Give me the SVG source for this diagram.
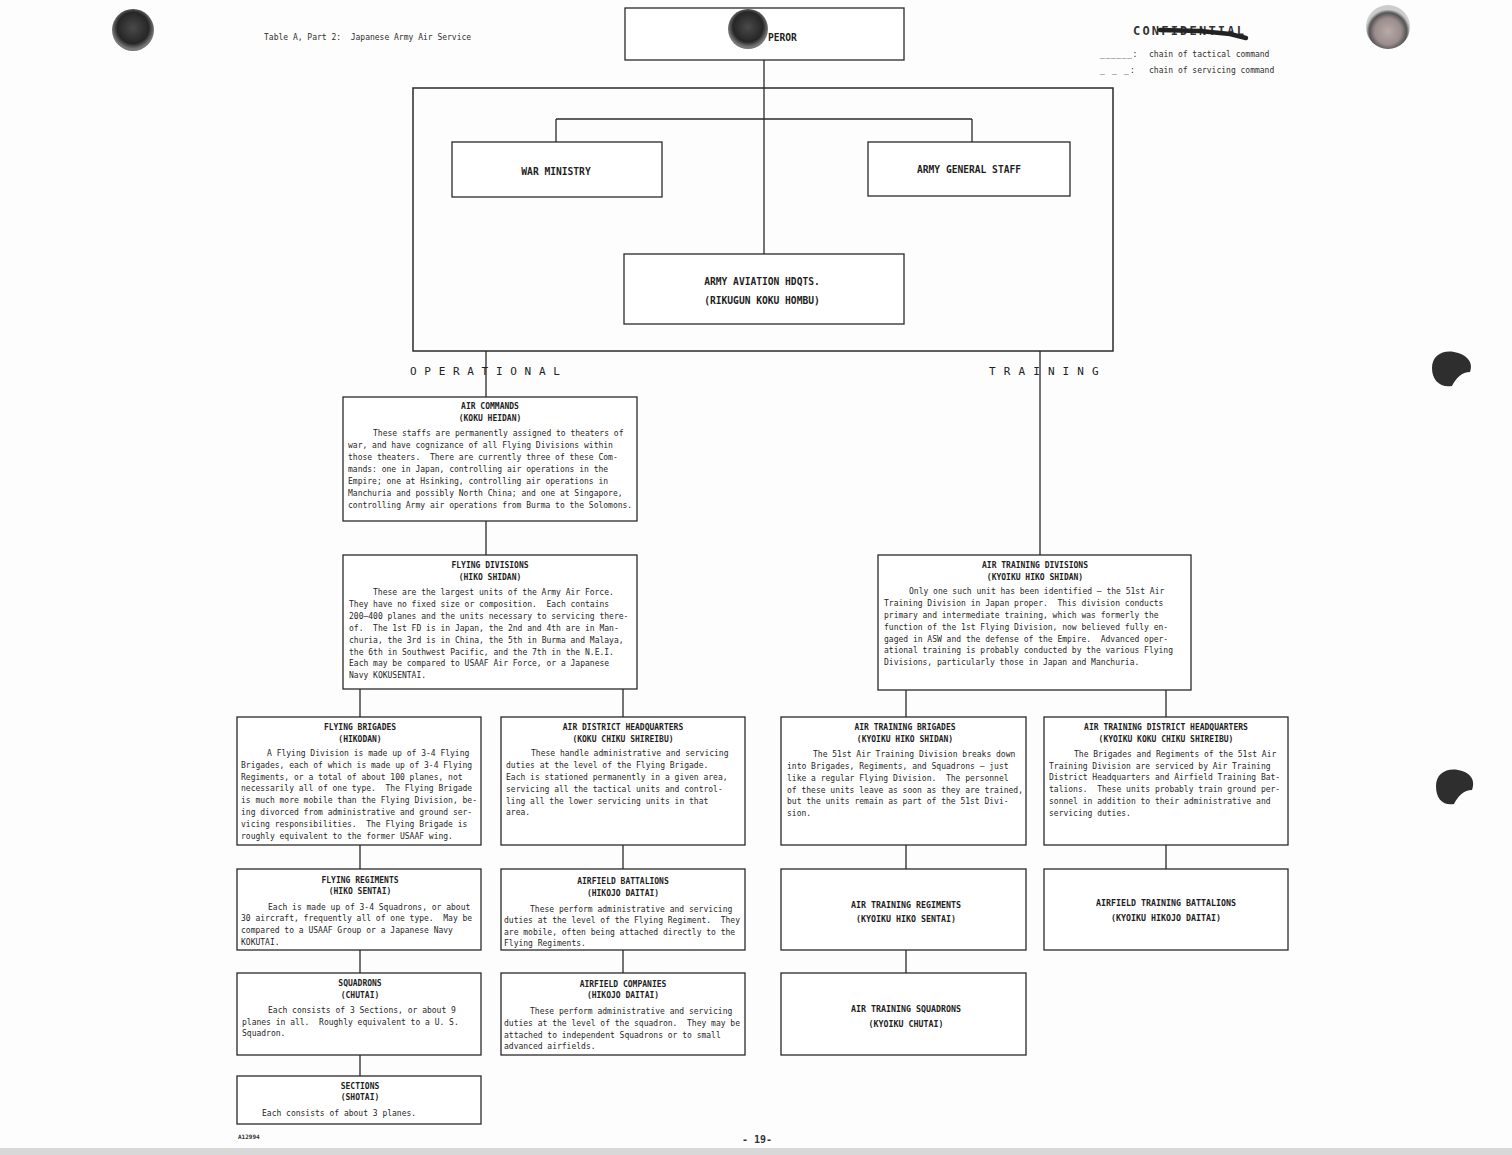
<svg xmlns="http://www.w3.org/2000/svg" width="1512" height="1155" viewBox="0 0 1512 1155" xml:space="preserve">
<defs>
<radialGradient id="hole" cx="50%" cy="45%" r="50%">
<stop offset="0" stop-color="#4a4a4a"/><stop offset="0.75" stop-color="#262626"/><stop offset="1" stop-color="#777"/>
</radialGradient>
<radialGradient id="hole2" cx="50%" cy="60%" r="50%">
<stop offset="0" stop-color="#b9aaa8"/><stop offset="0.6" stop-color="#9a8d8c"/><stop offset="0.85" stop-color="#555"/><stop offset="1" stop-color="#ccc"/>
</radialGradient>
<style>
text{white-space:pre}
.box{fill:#fff;stroke:#2a2a2a;stroke-width:1.3}
.frame{fill:none;stroke:#2a2a2a;stroke-width:1.5}
.h{font-family:"DejaVu Sans Mono","Liberation Mono",monospace;font-weight:bold;font-size:8px;text-anchor:middle;fill:#1e1e1e}
.hb{font-family:"DejaVu Sans Mono","Liberation Mono",monospace;font-weight:bold;font-size:9.6px;text-anchor:middle;fill:#1e1e1e}
.b{font-family:"DejaVu Sans Mono","Liberation Mono",monospace;font-size:8px;fill:#262626}
.s{font-family:"DejaVu Sans Mono","Liberation Mono",monospace;font-size:8px;fill:#2e2e2e}
.sp{font-family:"DejaVu Sans Mono","Liberation Mono",monospace;font-size:11px;fill:#222;letter-spacing:7.7px}
#connectors line{stroke:#2a2a2a;stroke-width:1.3}
</style>
</defs>
<rect x="0" y="0" width="1512" height="1155" fill="#fdfdfd"/>
<rect x="0" y="1148" width="1512" height="7" fill="#d8d8d8"/>

<text class="s" x="264" y="40">Table A, Part 2:  Japanese Army Air Service</text>
<g id="confidential">
<text x="1133" y="35" font-family="DejaVu Sans Mono, monospace" font-weight="bold" font-size="12px" letter-spacing="2.2" fill="#333">CONFIDENTIAL</text>
<path d="M1160 30 L1200 31 L1230 34 L1246 38" fill="none" stroke="#222" stroke-width="4.5" stroke-linecap="round"/>
</g>
<g id="legend">
<text class="s" x="1100" y="57" letter-spacing="0.6">______:</text>
<text class="s" x="1149" y="57">chain of tactical command</text>
<text class="s" x="1100" y="73" letter-spacing="1.2">_ _ _:</text>
<text class="s" x="1149" y="73">chain of servicing command</text>
</g>

<g id="connectors">
<line x1="764" y1="60" x2="764" y2="254"/>
<line x1="556" y1="119" x2="972" y2="119"/>
<line x1="556" y1="119" x2="556" y2="142"/>
<line x1="972" y1="119" x2="972" y2="142"/>
<line x1="486" y1="351" x2="486" y2="397"/>
<line x1="486" y1="521" x2="486" y2="555"/>
<line x1="1040" y1="351" x2="1040" y2="555"/>
<line x1="360" y1="689" x2="360" y2="717"/>
<line x1="623" y1="689" x2="623" y2="717"/>
<line x1="906" y1="690" x2="906" y2="717"/>
<line x1="1166" y1="690" x2="1166" y2="717"/>
<line x1="360" y1="845" x2="360" y2="869"/>
<line x1="360" y1="950" x2="360" y2="973"/>
<line x1="360" y1="1055" x2="360" y2="1076"/>
<line x1="623" y1="845" x2="623" y2="869"/>
<line x1="623" y1="950" x2="623" y2="973"/>
<line x1="906" y1="845" x2="906" y2="869"/>
<line x1="906" y1="950" x2="906" y2="973"/>
<line x1="1166" y1="845" x2="1166" y2="869"/>
</g>

<rect class="frame" x="413" y="88" width="700" height="263"/>

<g id="emperor">
<rect class="box" x="625" y="8" width="279" height="52"/>
<text class="hb" x="768" y="41" style="text-anchor:start">PEROR</text>
</g>
<g id="war-ministry">
<rect class="box" x="452" y="142" width="210" height="55"/>
<text class="hb" x="556" y="175">WAR MINISTRY</text>
</g>
<g id="army-general-staff">
<rect class="box" x="868" y="142" width="202" height="54"/>
<text class="hb" x="969" y="173">ARMY GENERAL STAFF</text>
</g>
<g id="army-aviation-hq">
<rect class="box" x="624" y="254" width="280" height="70"/>
<text class="hb" x="762" y="285">ARMY AVIATION HDQTS.</text>
<text class="hb" x="762" y="304">(RIKUGUN KOKU HOMBU)</text>
</g>

<text class="sp" x="410" y="375">OPERATIONAL</text>
<text class="sp" x="989" y="375" style="letter-spacing:8.1px">TRAINING</text>

<g id="air-commands">
<rect class="box" x="343" y="397" width="294" height="124"/>
<text class="h" x="490" y="409">AIR COMMANDS</text>
<text class="h" x="490" y="421">(KOKU HEIDAN)</text>
<text class="b" x="373" y="436">These staffs are permanently assigned to theaters of</text>
<text class="b" x="348" y="448">war, and have cognizance of all Flying Divisions within</text>
<text class="b" x="348" y="460">those theaters.  There are currently three of these Com-</text>
<text class="b" x="348" y="472">mands: one in Japan, controlling air operations in the</text>
<text class="b" x="348" y="484">Empire; one at Hsinking, controlling air operations in</text>
<text class="b" x="348" y="496">Manchuria and possibly North China; and one at Singapore,</text>
<text class="b" x="348" y="508">controlling Army air operations from Burma to the Solomons.</text>
</g>

<g id="flying-divisions">
<rect class="box" x="343" y="555" width="294" height="134"/>
<text class="h" x="490" y="568">FLYING DIVISIONS</text>
<text class="h" x="490" y="580">(HIKO SHIDAN)</text>
<text class="b" x="373" y="595">These are the largest units of the Army Air Force.</text>
<text class="b" x="349" y="607">They have no fixed size or composition.  Each contains</text>
<text class="b" x="349" y="619">200–400 planes and the units necessary to servicing there-</text>
<text class="b" x="349" y="631">of.  The 1st FD is in Japan, the 2nd and 4th are in Man-</text>
<text class="b" x="349" y="643">churia, the 3rd is in China, the 5th in Burma and Malaya,</text>
<text class="b" x="349" y="655">the 6th in Southwest Pacific, and the 7th in the N.E.I.</text>
<text class="b" x="349" y="666">Each may be compared to USAAF Air Force, or a Japanese</text>
<text class="b" x="349" y="678">Navy KOKUSENTAI.</text>
</g>

<g id="air-training-divisions">
<rect class="box" x="878" y="555" width="313" height="135"/>
<text class="h" x="1035" y="568">AIR TRAINING DIVISIONS</text>
<text class="h" x="1035" y="580">(KYOIKU HIKO SHIDAN)</text>
<text class="b" x="909" y="594">Only one such unit has been identified – the 51st Air</text>
<text class="b" x="884" y="606">Training Division in Japan proper.  This division conducts</text>
<text class="b" x="884" y="618">primary and intermediate training, which was formerly the</text>
<text class="b" x="884" y="630">function of the 1st Flying Division, now believed fully en-</text>
<text class="b" x="884" y="642">gaged in ASW and the defense of the Empire.  Advanced oper-</text>
<text class="b" x="884" y="653">ational training is probably conducted by the various Flying</text>
<text class="b" x="884" y="665">Divisions, particularly those in Japan and Manchuria.</text>
</g>

<g id="flying-brigades">
<rect class="box" x="237" y="717" width="244" height="128"/>
<text class="h" x="360" y="730">FLYING BRIGADES</text>
<text class="h" x="360" y="742">(HIKODAN)</text>
<text class="b" x="267" y="756">A Flying Division is made up of 3-4 Flying</text>
<text class="b" x="241" y="768">Brigades, each of which is made up of 3-4 Flying</text>
<text class="b" x="241" y="780">Regiments, or a total of about 100 planes, not</text>
<text class="b" x="241" y="791">necessarily all of one type.  The Flying Brigade</text>
<text class="b" x="241" y="803">is much more mobile than the Flying Division, be-</text>
<text class="b" x="241" y="815">ing divorced from administrative and ground ser-</text>
<text class="b" x="241" y="827">vicing responsibilities.  The Flying Brigade is</text>
<text class="b" x="241" y="839">roughly equivalent to the former USAAF wing.</text>
</g>

<g id="air-district-hq">
<rect class="box" x="501" y="717" width="244" height="128"/>
<text class="h" x="623" y="730">AIR DISTRICT HEADQUARTERS</text>
<text class="h" x="623" y="742">(KOKU CHIKU SHIREIBU)</text>
<text class="b" x="531" y="756">These handle administrative and servicing</text>
<text class="b" x="506" y="768">duties at the level of the Flying Brigade.</text>
<text class="b" x="506" y="780">Each is stationed permanently in a given area,</text>
<text class="b" x="506" y="792">servicing all the tactical units and control-</text>
<text class="b" x="506" y="804">ling all the lower servicing units in that</text>
<text class="b" x="506" y="815">area.</text>
</g>

<g id="air-training-brigades">
<rect class="box" x="781" y="717" width="245" height="128"/>
<text class="h" x="905" y="730">AIR TRAINING BRIGADES</text>
<text class="h" x="905" y="742">(KYOIKU HIKO SHIDAN)</text>
<text class="b" x="813" y="757">The 51st Air Training Division breaks down</text>
<text class="b" x="787" y="769">into Brigades, Regiments, and Squadrons – just</text>
<text class="b" x="787" y="781">like a regular Flying Division.  The personnel</text>
<text class="b" x="787" y="793">of these units leave as soon as they are trained,</text>
<text class="b" x="787" y="804">but the units remain as part of the 51st Divi-</text>
<text class="b" x="787" y="816">sion.</text>
</g>

<g id="air-training-district-hq">
<rect class="box" x="1044" y="717" width="244" height="128"/>
<text class="h" x="1166" y="730">AIR TRAINING DISTRICT HEADQUARTERS</text>
<text class="h" x="1166" y="742">(KYOIKU KOKU CHIKU SHIREIBU)</text>
<text class="b" x="1074" y="757">The Brigades and Regiments of the 51st Air</text>
<text class="b" x="1049" y="769">Training Division are serviced by Air Training</text>
<text class="b" x="1049" y="780">District Headquarters and Airfield Training Bat-</text>
<text class="b" x="1049" y="792">talions.  These units probably train ground per-</text>
<text class="b" x="1049" y="804">sonnel in addition to their administrative and</text>
<text class="b" x="1049" y="816">servicing duties.</text>
</g>

<g id="flying-regiments">
<rect class="box" x="237" y="869" width="244" height="81"/>
<text class="h" x="360" y="883">FLYING REGIMENTS</text>
<text class="h" x="360" y="894">(HIKO SENTAI)</text>
<text class="b" x="268" y="910">Each is made up of 3-4 Squadrons, or about</text>
<text class="b" x="241" y="921">30 aircraft, frequently all of one type.  May be</text>
<text class="b" x="241" y="933">compared to a USAAF Group or a Japanese Navy</text>
<text class="b" x="241" y="945">KOKUTAI.</text>
</g>

<g id="airfield-battalions">
<rect class="box" x="501" y="869" width="244" height="81"/>
<text class="h" x="623" y="884">AIRFIELD BATTALIONS</text>
<text class="h" x="623" y="896">(HIKOJO DAITAI)</text>
<text class="b" x="530" y="912">These perform administrative and servicing</text>
<text class="b" x="504" y="923">duties at the level of the Flying Regiment.  They</text>
<text class="b" x="504" y="935">are mobile, often being attached directly to the</text>
<text class="b" x="504" y="946">Flying Regiments.</text>
</g>

<g id="air-training-regiments">
<rect class="box" x="781" y="869" width="245" height="81"/>
<text class="h" x="906" y="908" style="font-size:8.3px">AIR TRAINING REGIMENTS</text>
<text class="h" x="906" y="922" style="font-size:8.3px">(KYOIKU HIKO SENTAI)</text>
</g>

<g id="airfield-training-battalions">
<rect class="box" x="1044" y="869" width="244" height="81"/>
<text class="h" x="1166" y="906" style="font-size:8.3px">AIRFIELD TRAINING BATTALIONS</text>
<text class="h" x="1166" y="921" style="font-size:8.3px">(KYOIKU HIKOJO DAITAI)</text>
</g>

<g id="squadrons">
<rect class="box" x="237" y="973" width="244" height="82"/>
<text class="h" x="360" y="986">SQUADRONS</text>
<text class="h" x="360" y="998">(CHUTAI)</text>
<text class="b" x="268" y="1013">Each consists of 3 Sections, or about 9</text>
<text class="b" x="242" y="1025">planes in all.  Roughly equivalent to a U. S.</text>
<text class="b" x="242" y="1036">Squadron.</text>
</g>

<g id="airfield-companies">
<rect class="box" x="501" y="973" width="244" height="82"/>
<text class="h" x="623" y="987">AIRFIELD COMPANIES</text>
<text class="h" x="623" y="998">(HIKOJO DAITAI)</text>
<text class="b" x="530" y="1014">These perform administrative and servicing</text>
<text class="b" x="504" y="1026">duties at the level of the squadron.  They may be</text>
<text class="b" x="504" y="1038">attached to independent Squadrons or to small</text>
<text class="b" x="504" y="1049">advanced airfields.</text>
</g>

<g id="air-training-squadrons">
<rect class="box" x="781" y="973" width="245" height="82"/>
<text class="h" x="906" y="1012" style="font-size:8.3px">AIR TRAINING SQUADRONS</text>
<text class="h" x="906" y="1027" style="font-size:8.3px">(KYOIKU CHUTAI)</text>
</g>

<g id="sections">
<rect class="box" x="237" y="1076" width="244" height="48"/>
<text class="h" x="360" y="1089">SECTIONS</text>
<text class="h" x="360" y="1100">(SHOTAI)</text>
<text class="b" x="262" y="1116">Each consists of about 3 planes.</text>
</g>

<text x="238" y="1139" font-family="DejaVu Sans Mono, monospace" font-weight="bold" font-size="6px" fill="#333">A12994</text>
<text x="742" y="1143" font-family="DejaVu Sans Mono, monospace" font-weight="bold" font-size="10px" fill="#333">- 19-</text>

<circle cx="133" cy="30" r="21" fill="url(#hole)"/>
<circle cx="748" cy="29" r="20" fill="url(#hole)"/>
<circle cx="1388" cy="27" r="22" fill="url(#hole2)"/>
<path d="M1432 368 C1432 356 1442 350 1454 352 C1466 354 1474 362 1470 372 C1462 372 1456 378 1452 386 C1440 388 1432 380 1432 368 Z" fill="#2e2e2e"/>
<path d="M1436 786 C1436 774 1446 768 1458 770 C1470 772 1476 780 1472 790 C1464 790 1458 796 1454 804 C1442 806 1436 798 1436 786 Z" fill="#2e2e2e"/>
</svg>
